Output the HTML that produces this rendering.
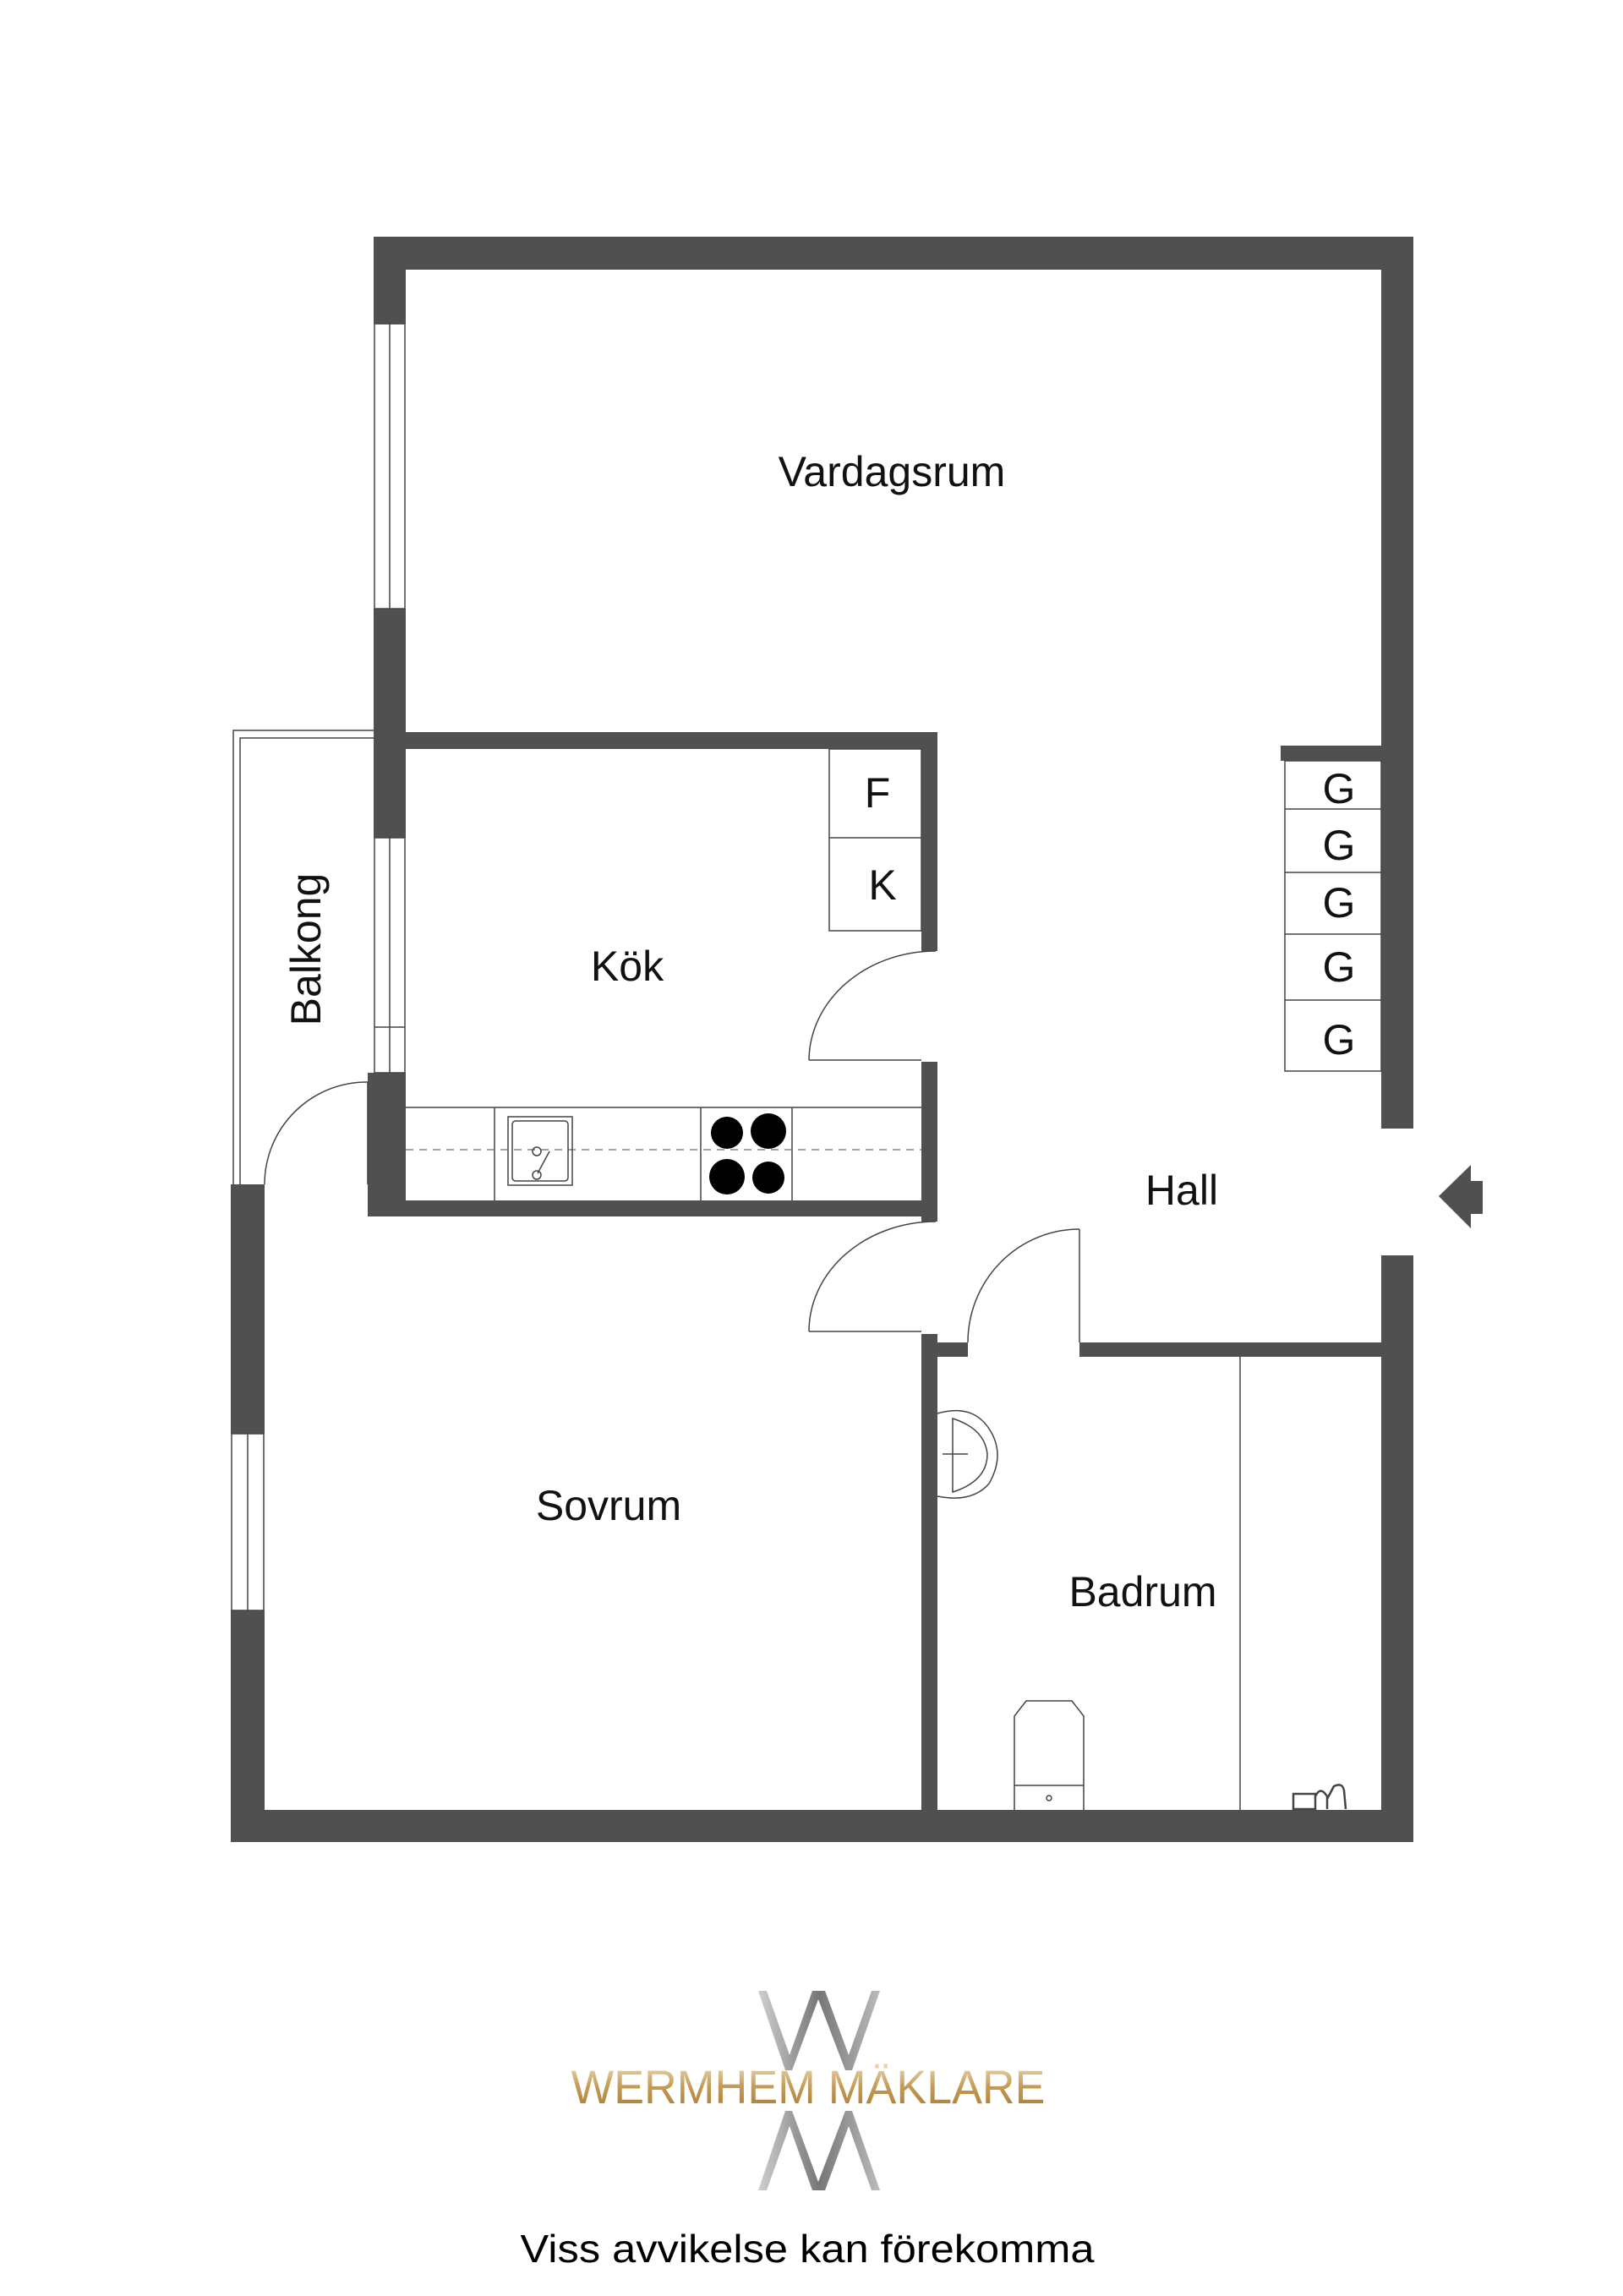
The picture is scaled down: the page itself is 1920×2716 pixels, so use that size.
<!DOCTYPE html>
<html><head><meta charset="utf-8"><style>
html,body{margin:0;padding:0;background:#fff;}
svg{display:block;}
text{font-family:"Liberation Sans",sans-serif;}
</style></head><body>
<svg width="1920" height="2716" viewBox="0 0 1920 2716" xmlns="http://www.w3.org/2000/svg">
<defs>
<linearGradient id="gold" x1="0" y1="0" x2="0" y2="1">
<stop offset="0" stop-color="#f0e2c4"/><stop offset="0.5" stop-color="#c49a55"/><stop offset="1" stop-color="#a87a30"/>
</linearGradient>
<linearGradient id="grey" x1="0" y1="0" x2="1" y2="0">
<stop offset="0" stop-color="#cfcfcf"/><stop offset="0.5" stop-color="#777"/><stop offset="1" stop-color="#bbb"/>
</linearGradient>
</defs>
<g fill="#505050">
<rect x="442" y="280" width="1230" height="39"/>
<rect x="442" y="280" width="38" height="103"/>
<rect x="442" y="720" width="38" height="271"/>
<rect x="435" y="1269" width="45" height="170"/>
<rect x="1634" y="280" width="38" height="1055"/>
<rect x="1634" y="1485" width="38" height="694"/>
<rect x="1515" y="882" width="119" height="18"/>
<rect x="480" y="866" width="629" height="20"/>
<rect x="1090" y="866" width="19" height="259"/>
<rect x="1090" y="1256" width="19" height="189"/>
<rect x="435" y="1420" width="674" height="19"/>
<rect x="273" y="1401" width="40" height="295"/>
<rect x="273" y="1905" width="40" height="274"/>
<rect x="273" y="2141" width="1399" height="38"/>
<rect x="1090" y="1578" width="19" height="563"/>
<rect x="1090" y="1588" width="55" height="17"/>
<rect x="1277" y="1588" width="357" height="17"/>
<polygon points="1702,1415 1740,1378 1740,1397 1754,1397 1754,1436 1740,1436 1740,1453"/>
</g>
<g fill="none" stroke="#444" stroke-width="1.5">
<rect x="443" y="383" width="36" height="337"/><line x1="461" y1="383" x2="461" y2="720"/>
<rect x="443" y="991" width="36" height="278"/><line x1="461" y1="991" x2="461" y2="1269"/><line x1="443" y1="1215" x2="479" y2="1215"/>
<rect x="274" y="1696" width="38" height="209"/><line x1="293" y1="1696" x2="293" y2="1905"/>
<polyline points="442,864 276,864 276,1401"/>
<polyline points="442,873 284,873 284,1401"/>
<line x1="435" y1="1280" x2="435" y2="1401"/>
<path d="M435,1280 A121,121 0 0 0 313,1401"/>
<rect x="981" y="886" width="109" height="215"/><line x1="981" y1="991" x2="1090" y2="991"/>
<line x1="480" y1="1310" x2="1090" y2="1310"/>
<line x1="585" y1="1310" x2="585" y2="1420"/><line x1="829" y1="1310" x2="829" y2="1420"/><line x1="937" y1="1310" x2="937" y2="1420"/>
<line x1="480" y1="1360" x2="1090" y2="1360" stroke-dasharray="9,7" stroke-width="1"/>
<rect x="601" y="1321" width="76" height="81"/><rect x="606" y="1326" width="66" height="71" rx="4"/>
<circle cx="635" cy="1362" r="5"/><circle cx="635" cy="1390" r="5"/><line x1="636" y1="1388" x2="650" y2="1362"/>
<line x1="957" y1="1254" x2="1090" y2="1254"/>
<path d="M957,1254 A150,130 0 0 1 1107,1125"/>
<line x1="957" y1="1575" x2="1090" y2="1575"/>
<path d="M957,1575 A150,130 0 0 1 1107,1445"/>
<line x1="1277" y1="1454" x2="1277" y2="1588"/>
<path d="M1277,1454 A132,134 0 0 0 1145,1588"/>
<rect x="1520" y="900" width="114" height="367"/>
<line x1="1520" y1="957" x2="1634" y2="957"/><line x1="1520" y1="1032" x2="1634" y2="1032"/><line x1="1520" y1="1105" x2="1634" y2="1105"/><line x1="1520" y1="1183" x2="1634" y2="1183"/>
<line x1="1467" y1="1605" x2="1467" y2="2141"/>
<path d="M1109,1672 Q1150,1660 1170,1690 Q1190,1720 1170,1755 Q1150,1778 1109,1770"/>
<path d="M1127,1678 Q1165,1690 1168,1720 Q1168,1752 1127,1765 Z"/>
<line x1="1115" y1="1720" x2="1145" y2="1720"/>
<path d="M1200,2141 L1200,2030 L1214,2012 L1268,2012 L1282,2030 L1282,2141"/>
<line x1="1200" y1="2112" x2="1282" y2="2112"/><circle cx="1241" cy="2127" r="3"/>
<path d="M1530,2122 L1556,2122 L1556,2140 L1530,2140 Z M1556,2125 Q1562,2112 1570,2125 L1570,2140 M1570,2128 L1578,2113 Q1588,2108 1590,2118 L1592,2140" stroke-width="2.5"/>
</g>
<g fill="#000">
<circle cx="860" cy="1340" r="19"/><circle cx="909" cy="1338" r="21"/><circle cx="860" cy="1392" r="21"/><circle cx="909" cy="1393" r="19"/>
</g>
<g fill="#111" font-size="50" text-anchor="middle">
<text x="1055" y="575">Vardagsrum</text>
<text x="742" y="1160">Kök</text>
<text x="1038" y="955">F</text>
<text x="1044" y="1064">K</text>
<text x="1584" y="950">G</text>
<text x="1584" y="1017">G</text>
<text x="1584" y="1085">G</text>
<text x="1584" y="1161">G</text>
<text x="1584" y="1247">G</text>
<text x="1398" y="1425">Hall</text>
<text x="720" y="1798">Sovrum</text>
<text x="1352" y="1900">Badrum</text>
<text transform="translate(379,1123) rotate(-90)">Balkong</text>
</g>
<g fill="url(#grey)" transform="translate(0,-9)">
<polygon points="897,2364 907,2364 934,2440 961,2364 976,2364 1004,2440 1031,2364 1041,2364 1008,2458 1000,2458 968,2374 937,2458 929,2458"/>
<polygon points="897,2600 907,2600 934,2524 961,2600 976,2600 1004,2524 1031,2600 1041,2600 1008,2506 1000,2506 968,2590 937,2506 929,2506"/>
</g>
<text x="956" y="2488" font-size="56" text-anchor="middle" fill="url(#gold)" textLength="561" lengthAdjust="spacingAndGlyphs">WERMHEM MÄKLARE</text>
<text x="955" y="2676" font-size="46" text-anchor="middle" fill="#000" textLength="679" lengthAdjust="spacingAndGlyphs">Viss avvikelse kan förekomma</text>
</svg>
</body></html>
